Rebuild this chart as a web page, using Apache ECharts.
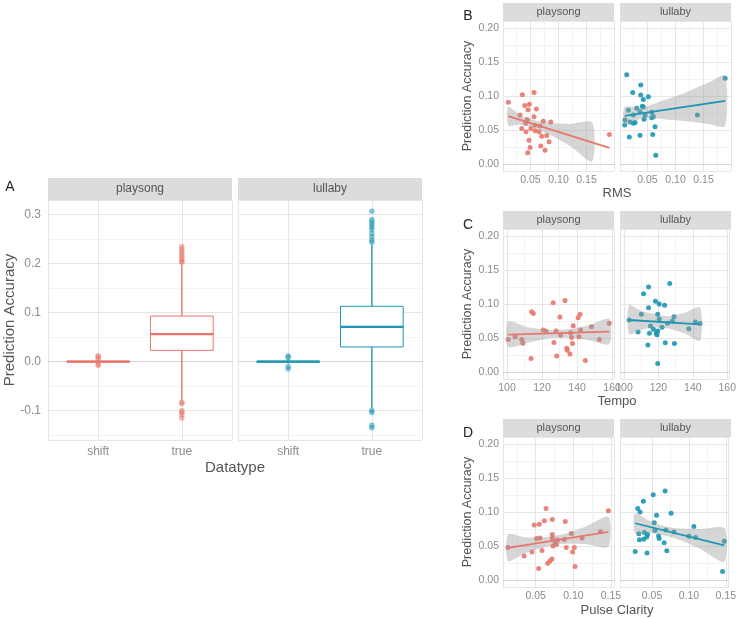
<!DOCTYPE html>
<html>
<head>
<meta charset="utf-8">
<script src="https://cdn.jsdelivr.net/npm/echarts@6/dist/echarts.min.js"></script>
<style>
html, body { margin: 0; padding: 0; background: #fff; }
#chart { width: 739px; height: 619px; }
</style>
</head>
<body>
<div id="chart"></div>
<script>
// ---- panel A: boxplots, rows are [x, lowWhisker, Q1, median, Q3, highWhisker]
const boxCats = ['shift', 'true'];
const playBoxes = [[1, -0.004, -0.001, 0, 0.001, 0.004], [2, -0.08, 0.023, 0.056, 0.093, 0.198]];
const lullBoxes = [[1, -0.004, -0.001, 0, 0.001, 0.005], [2, -0.095, 0.030, 0.071, 0.113, 0.238]];
const playOutliers = [[1, 0.012], [1, 0.009], [1, 0.006], [1, -0.005], [1, -0.008],
  [2, 0.235], [2, 0.23], [2, 0.225], [2, 0.22], [2, 0.215], [2, 0.21], [2, 0.205], [2, 0.203],
  [2, -0.083], [2, -0.086], [2, -0.1], [2, -0.104], [2, -0.108], [2, -0.115]];
const lullOutliers = [[1, 0.012], [1, 0.008], [1, -0.01], [1, -0.015],
  [2, 0.307], [2, 0.29], [2, 0.285], [2, 0.28], [2, 0.275], [2, 0.27], [2, 0.262], [2, 0.255], [2, 0.248], [2, 0.243],
  [2, -0.1], [2, -0.104], [2, -0.13], [2, -0.135]];

// ---- panel B: RMS
const rmsPlay = [[0.0105, 0.091], [0.0355, 0.102], [0.0564, 0.105], [0.0397, 0.086], [0.048, 0.088], [0.0456, 0.080],
  [0.0605, 0.081], [0.0314, 0.072], [0.0564, 0.0696], [0.0444, 0.0657], [0.0344, 0.0525], [0.0421, 0.0475],
  [0.0505, 0.0525], [0.0581, 0.049], [0.0653, 0.0475], [0.073, 0.063], [0.0862, 0.062], [0.0581, 0.057],
  [0.0701, 0.041], [0.079, 0.042], [0.0474, 0.035], [0.0831, 0.033], [0.0492, 0.0245], [0.0683, 0.0265],
  [0.0451, 0.0167], [0.076, 0.0206], [0.1908, 0.0437], [0.0671, 0.056], [0.0415, 0.060]];
const rmsLull = [[0.013, 0.131], [0.038, 0.116], [0.0237, 0.105], [0.038, 0.1015], [0.0516, 0.099], [0.0426, 0.095],
  [0.0408, 0.085], [0.0308, 0.082], [0.0159, 0.079], [0.0426, 0.084], [0.0367, 0.077], [0.0576, 0.076],
  [0.0248, 0.072], [0.0456, 0.072], [0.0605, 0.070], [0.0099, 0.0647], [0.0189, 0.062], [0.0278, 0.061],
  [0.0439, 0.066], [0.0576, 0.068], [0.0094, 0.0574], [0.0248, 0.060], [0.0635, 0.055], [0.0176, 0.040],
  [0.0367, 0.0426], [0.0594, 0.0436], [0.0648, 0.013], [0.139, 0.072], [0.1885, 0.126]];
const rmsPlayFit = [[0.0105, 0.0706], [0.1908, 0.024]];
const rmsLullFit = [[0.0094, 0.071], [0.1885, 0.093]];
// [x, lower, upper]
const rmsPlayBand = [[0.0105, 0.057, 0.084], [0.03, 0.058, 0.073], [0.05, 0.055, 0.066], [0.08, 0.045, 0.061], [0.12, 0.027, 0.059], [0.16, 0.004, 0.061]];
const rmsLullBand = [[0.0094, 0.058, 0.084], [0.04, 0.067, 0.083], [0.08, 0.066, 0.094], [0.12, 0.063, 0.106], [0.16, 0.059, 0.120], [0.1885, 0.056, 0.130]];

// ---- panel C: Tempo
const tempoPlay = [[100.7, 0.048], [104.6, 0.052], [108.4, 0.048], [109, 0.0424], [114.1, 0.0886], [115, 0.086],
  [113.7, 0.020], [120.7, 0.062], [122.3, 0.060], [126.4, 0.102], [126.8, 0.0436], [128, 0.0605], [128.4, 0.0238],
  [130.2, 0.081], [130.6, 0.054], [133.1, 0.105], [134.1, 0.035], [134.4, 0.032], [135.9, 0.0268], [136.3, 0.058],
  [136.9, 0.051], [137.4, 0.042], [137.8, 0.068], [140.6, 0.080], [141.7, 0.085], [141.1, 0.052], [142, 0.062],
  [144.7, 0.017], [148.3, 0.0667], [152.7, 0.048], [158.4, 0.0716]];
const tempoLull = [[126.6, 0.130], [114.3, 0.125], [111.4, 0.115], [118.3, 0.104], [120.5, 0.0999], [123.6, 0.098],
  [114.3, 0.0945], [110.1, 0.0848], [119.6, 0.0848], [129.1, 0.0813], [120.5, 0.078], [108.2, 0.059], [115.4, 0.0677],
  [117.1, 0.063], [119.6, 0.0605], [114.8, 0.057], [118.7, 0.057], [119.2, 0.055], [122.1, 0.0658], [125.3, 0.0716],
  [128.1, 0.0747], [113.9, 0.040], [124, 0.0433], [129.3, 0.042], [119.6, 0.0126], [137.7, 0.0638], [141.5, 0.0737],
  [103, 0.0765], [144.2, 0.0715]];
const tempoPlayFit = [[100.7, 0.055], [158.4, 0.0595]];
const tempoLullFit = [[103, 0.0765], [144.2, 0.070]];
const tempoPlayBand = [[100.7, 0.037, 0.074], [112, 0.043, 0.066], [125, 0.050, 0.062], [138, 0.050, 0.064], [148, 0.046, 0.070], [158.4, 0.041, 0.078]];
const tempoLullBand = [[103, 0.056, 0.098], [110, 0.062, 0.090], [118, 0.066, 0.085], [126, 0.064, 0.082], [135, 0.057, 0.087], [144.2, 0.046, 0.095]];

// ---- panel D: Pulse Clarity
const clarityPlay = [[0.0131, 0.0478], [0.0346, 0.0356], [0.045, 0.0414], [0.048, 0.081], [0.0547, 0.082], [0.0512, 0.061],
  [0.0557, 0.062], [0.0583, 0.0434], [0.0614, 0.087], [0.0637, 0.105], [0.0539, 0.017], [0.066, 0.0249], [0.069, 0.028],
  [0.0714, 0.031], [0.072, 0.089], [0.072, 0.067], [0.072, 0.062], [0.073, 0.050], [0.0758, 0.056], [0.0789, 0.059],
  [0.0775, 0.0525], [0.0892, 0.0859], [0.0879, 0.0596], [0.0906, 0.0478], [0.0973, 0.0683], [0.099, 0.0414],
  [0.1013, 0.0478], [0.1022, 0.020], [0.1116, 0.062], [0.136, 0.0712], [0.1465, 0.102]];
const clarityLull = [[0.0677, 0.1307], [0.0516, 0.1253], [0.0382, 0.1156], [0.0306, 0.105], [0.0338, 0.100], [0.0758, 0.098],
  [0.0561, 0.0951], [0.053, 0.0844], [0.1067, 0.0786], [0.032, 0.068], [0.0396, 0.070], [0.0539, 0.073], [0.0687, 0.0735],
  [0.0798, 0.0707], [0.0588, 0.0649], [0.0597, 0.061], [0.044, 0.067], [0.0386, 0.060], [0.0328, 0.0594], [0.0427, 0.0634],
  [0.0271, 0.042], [0.0432, 0.040], [0.0664, 0.055], [0.07, 0.043], [0.100, 0.0643], [0.109, 0.0625], [0.148, 0.057],
  [0.1456, 0.0127]];
const clarityPlayFit = [[0.0131, 0.0475], [0.1465, 0.071]];
const clarityLullFit = [[0.0271, 0.0835], [0.148, 0.0512]];
const clarityPlayBand = [[0.0131, 0.028, 0.067], [0.035, 0.039, 0.063], [0.06, 0.048, 0.063], [0.085, 0.053, 0.067], [0.115, 0.053, 0.078], [0.1465, 0.049, 0.093]];
const clarityLullBand = [[0.0271, 0.069, 0.098], [0.045, 0.070, 0.088], [0.065, 0.066, 0.080], [0.085, 0.060, 0.076], [0.115, 0.046, 0.075], [0.148, 0.027, 0.076]];

const PLAY = '#E8766C';
const LULL = '#1C96B4';
const FONT = 'Liberation Sans';
const GRID_MAJOR = '#e6e6e6';
const GRID_MINOR = '#f3f3f3';
const TICK_COLOR = '#8c8c8c';

const chart = echarts.init(document.getElementById('chart'));

// facet panels in pixels
const grids = [
  { left: 48, top: 200, width: 184, height: 240 },   // A playsong
  { left: 238, top: 200, width: 184, height: 240 },  // A lullaby
  { left: 503, top: 21, width: 111, height: 150 },   // B playsong
  { left: 620, top: 21, width: 111, height: 150 },   // B lullaby
  { left: 503, top: 229, width: 111, height: 150 },  // C playsong
  { left: 620, top: 229, width: 111, height: 150 },  // C lullaby
  { left: 503, top: 437, width: 111, height: 150 },  // D playsong
  { left: 620, top: 437, width: 111, height: 150 }   // D lullaby
];

function valueAxis(gridIndex, min, max, splitNumber, opts) {
  return Object.assign({
    type: 'value', gridIndex, min, max, splitNumber,
    axisLine: { show: false }, axisTick: { show: false },
    splitLine: { show: true, lineStyle: { color: GRID_MAJOR, width: 1 } },
    minorTick: { show: false, splitNumber: 2 },
    minorSplitLine: { show: opts.minor !== false, lineStyle: { color: GRID_MINOR, width: 1 } },
    axisLabel: {
      show: opts.label !== false, showMinLabel: false, showMaxLabel: false,
      color: TICK_COLOR, fontFamily: FONT, fontSize: opts.fontSize || 10.5, margin: opts.margin || 4,
      formatter: opts.fmt
    }
  }, opts.extra || {});
}

const fmt2 = v => v.toFixed(2);
const fmt1 = v => v.toFixed(1);
const fmtCat = v => boxCats[Math.round(v) - 1] || '';
const fmtInt = v => String(Math.round(v));

const bottomLine = { axisLine: { show: true, lineStyle: { color: '#d4d4d4', width: 1 } } };

const xAxes = [
  valueAxis(0, 0.4, 2.6, 2, { fmt: fmtCat, minor: false, fontSize: 12, margin: 6, extra: bottomLine }),
  valueAxis(1, 0.4, 2.6, 2, { fmt: fmtCat, minor: false, fontSize: 12, margin: 6, extra: bottomLine }),
  valueAxis(2, 0.001, 0.199, 4, { fmt: fmt2, extra: bottomLine }),
  valueAxis(3, 0.001, 0.199, 4, { fmt: fmt2, extra: bottomLine }),
  valueAxis(4, 97.7, 161.1, 3, { fmt: fmtInt, extra: bottomLine }),
  valueAxis(5, 97.7, 161.1, 3, { fmt: fmtInt, extra: bottomLine }),
  valueAxis(6, 0.0065, 0.154, 3, { fmt: fmt2, extra: bottomLine }),
  valueAxis(7, 0.0065, 0.154, 3, { fmt: fmt2, extra: bottomLine })
];
const yAxes = [
  valueAxis(0, -0.16, 0.33, 5, { fmt: fmt1, fontSize: 12, margin: 7 }),
  valueAxis(1, -0.16, 0.33, 5, { fmt: fmt1, label: false }),
  valueAxis(2, -0.01, 0.21, 4, { fmt: fmt2 }),
  valueAxis(3, -0.01, 0.21, 4, { fmt: fmt2, label: false }),
  valueAxis(4, -0.01, 0.21, 4, { fmt: fmt2 }),
  valueAxis(5, -0.01, 0.21, 4, { fmt: fmt2, label: false }),
  valueAxis(6, -0.01, 0.21, 4, { fmt: fmt2 }),
  valueAxis(7, -0.01, 0.21, 4, { fmt: fmt2, label: false })
];

function boxSeries(idx, data, color) {
  return {
    type: 'custom', xAxisIndex: idx, yAxisIndex: idx, data, z: 4,
    encode: { x: 0, y: [1, 2, 3, 4, 5] },
    renderItem: (params, api) => {
      const x = api.value(0);
      const w = api.size([0.75, 0])[0];
      const lo = api.coord([x, api.value(1)]);
      const q1 = api.coord([x, api.value(2)]);
      const md = api.coord([x, api.value(3)]);
      const q3 = api.coord([x, api.value(4)]);
      const hi = api.coord([x, api.value(5)]);
      const ln = { stroke: color, lineWidth: 1.3 };
      return {
        type: 'group', children: [
          { type: 'line', shape: { x1: lo[0], y1: lo[1], x2: q1[0], y2: q1[1] }, style: ln },
          { type: 'line', shape: { x1: q3[0], y1: q3[1], x2: hi[0], y2: hi[1] }, style: ln },
          { type: 'rect', shape: { x: q3[0] - w / 2, y: q3[1], width: w, height: q1[1] - q3[1] },
            style: { fill: '#fff', stroke: color, lineWidth: 1 } },
          { type: 'line', shape: { x1: md[0] - w / 2, y1: md[1], x2: md[0] + w / 2, y2: md[1] },
            style: { stroke: color, lineWidth: 2.2 } }
        ]
      };
    }
  };
}

function pointSeries(idx, data, color, size, opacity) {
  return {
    type: 'scatter', xAxisIndex: idx, yAxisIndex: idx, data, z: 2,
    symbolSize: size, itemStyle: { color, opacity }, silent: true
  };
}

function bandSeries(idx, band) {
  return {
    type: 'custom', xAxisIndex: idx, yAxisIndex: idx, data: [[band[0][0], band[0][1]]], z: 3, silent: true,
    clip: true,
    renderItem: (params, api) => {
      const upper = band.map(b => api.coord([b[0], b[2]]));
      const lower = band.slice().reverse().map(b => api.coord([b[0], b[1]]));
      return {
        type: 'polygon', shape: { points: upper.concat(lower), smooth: 0.25 },
        style: { fill: 'rgba(153,153,153,0.4)' }
      };
    }
  };
}

function fitSeries(idx, data, color) {
  return {
    type: 'line', xAxisIndex: idx, yAxisIndex: idx, data, z: 4, silent: true,
    showSymbol: false, lineStyle: { color, width: 1.8 }
  };
}

const series = [
  pointSeries(0, playOutliers, PLAY, 5.5, 0.55),
  boxSeries(0, playBoxes, PLAY),
  pointSeries(1, lullOutliers, LULL, 5.5, 0.55),
  boxSeries(1, lullBoxes, LULL),

  pointSeries(2, rmsPlay, PLAY, 5, 0.9), bandSeries(2, rmsPlayBand), fitSeries(2, rmsPlayFit, PLAY),
  pointSeries(3, rmsLull, LULL, 5, 0.9), bandSeries(3, rmsLullBand), fitSeries(3, rmsLullFit, LULL),
  pointSeries(4, tempoPlay, PLAY, 5, 0.9), bandSeries(4, tempoPlayBand), fitSeries(4, tempoPlayFit, PLAY),
  pointSeries(5, tempoLull, LULL, 5, 0.9), bandSeries(5, tempoLullBand), fitSeries(5, tempoLullFit, LULL),
  pointSeries(6, clarityPlay, PLAY, 5, 0.9), bandSeries(6, clarityPlayBand), fitSeries(6, clarityPlayFit, PLAY),
  pointSeries(7, clarityLull, LULL, 5, 0.9), bandSeries(7, clarityLullBand), fitSeries(7, clarityLullFit, LULL)
];

// facet strips and titles
const graphics = [];
function strip(g, h, label, size) {
  graphics.push({ type: 'rect', shape: { x: g.left, y: g.top - h, width: g.width, height: h }, style: { fill: '#dcdcdc' }, silent: true });
  graphics.push({ type: 'text', x: g.left + g.width / 2, y: g.top - h / 2, silent: true,
    style: { text: label, textAlign: 'center', textVerticalAlign: 'middle', fill: '#555', font: size + 'px ' + FONT } });
}
function label(text, x, y, size, color, rotate) {
  graphics.push({ type: 'text', x, y, rotation: rotate ? Math.PI / 2 : 0, silent: true,
    style: { text, textAlign: 'center', textVerticalAlign: 'middle', fill: color, font: size + 'px ' + FONT } });
}
strip(grids[0], 22, 'playsong', 12); strip(grids[1], 22, 'lullaby', 12);
strip(grids[2], 18, 'playsong', 11); strip(grids[3], 18, 'lullaby', 11);
strip(grids[4], 18, 'playsong', 11); strip(grids[5], 18, 'lullaby', 11);
strip(grids[6], 18, 'playsong', 11); strip(grids[7], 18, 'lullaby', 11);

label('Prediction Accuracy', 10, 320, 15, '#555', true);
label('Datatype', 235, 468, 15, '#555');
label('Prediction Accuracy', 468, 96, 12.5, '#555', true);
label('Prediction Accuracy', 468, 304, 12.5, '#555', true);
label('Prediction Accuracy', 468, 512, 12.5, '#555', true);
label('RMS', 617, 193, 13, '#555');
label('Tempo', 617, 401, 13, '#555');
label('Pulse Clarity', 617, 610, 13, '#555');
label('A', 10, 187, 14, '#222');
label('B', 468, 16, 14, '#222');
label('C', 468, 225, 14, '#222');
label('D', 468, 433, 14, '#222');

chart.setOption({
  animation: false,
  backgroundColor: '#fff',
  grid: grids,
  xAxis: xAxes,
  yAxis: yAxes,
  series,
  graphic: graphics
});
</script>
</body>
</html>
